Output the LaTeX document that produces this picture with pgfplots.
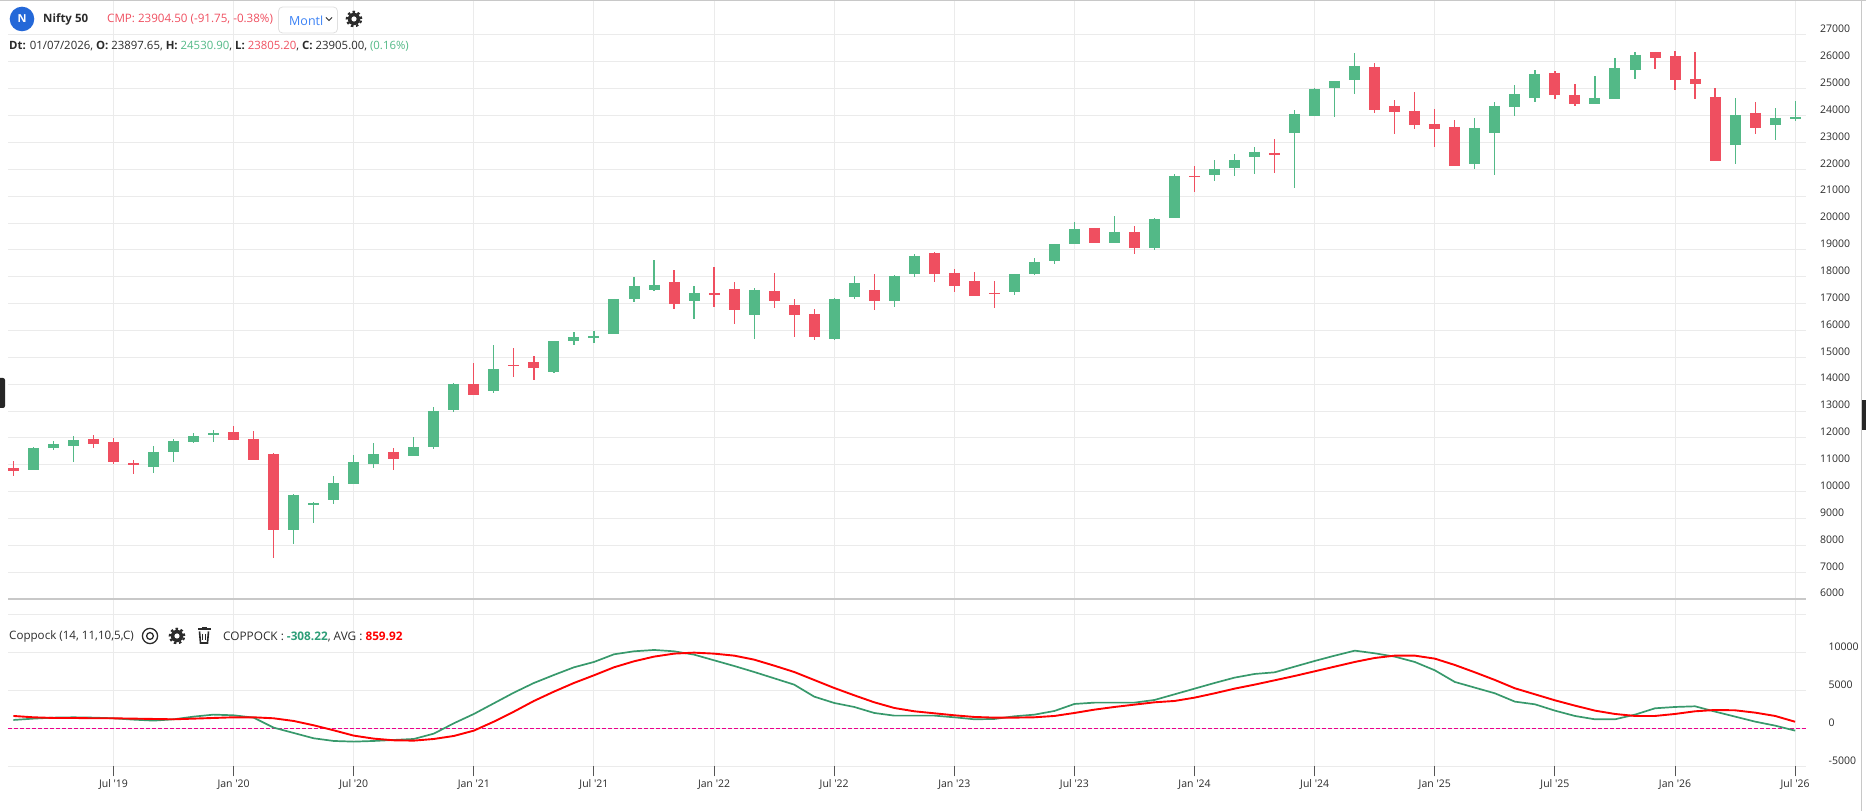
\documentclass[border=0pt]{standalone}
\usepackage{pgfplots}
\usepackage{pgfplotstable}
\usepackage{fontspec}
\pgfplotsset{compat=1.18}
\setmainfont{Open Sans}
\definecolor{cgreen}{HTML}{53B987}
\definecolor{cred}{HTML}{EF4F60}
\definecolor{lgreen}{HTML}{38996C}
\definecolor{gridc}{HTML}{EBEBEB}
\definecolor{txt}{HTML}{2B2B2B}
\definecolor{sepc}{HTML}{C8C8C8}
\definecolor{blueb}{HTML}{2468D8}
\definecolor{bluet}{HTML}{3B82F6}
\definecolor{tealv}{HTML}{2E9E78}
\pgfplotstableread{
n high top bot low
1 11664 11627 10808 10808
2 11887 11776 11627 11552
3 12073 11924 11701 11106
7 11701 11478 10920 10696
8 11962 11887 11478 11106
9 12185 12073 11850 11813
10 12297 12185 12111 11850
14 9915 9878 8575 8054
15 9617 9580 9506 8836
16 10585 10324 9692 9543
17 11366 11106 10287 10287
18 11813 11403 11031 10882
20 12036 11664 11329 11329
21 13153 13004 11664 11590
22 14046 14009 13041 12967
24 15460 14567 13748 13674
27 15609 15609 14455 14418
28 15944 15758 15609 15460
29 15981 15795 15720 15534
30 17172 17172 15870 15870
31 17991 17656 17172 17061
32 18624 17693 17507 17470
34 17656 17396 17098 16428
37 17582 17507 16577 15684
41 17209 17172 15684 15646
42 18028 17768 17247 17172
44 18065 18028 17098 16875
45 18847 18773 18103 17991
50 18103 18103 17433 17321
51 18698 18549 18103 18065
52 19219 19219 18586 18475
53 20038 19777 19219 19219
55 20261 19666 19256 19256
57 20187 20149 19070 18996
58 21824 21750 20187 20187
60 22345 22010 21787 21564
61 22568 22345 22047 21750
62 22829 22643 22457 21824
64 24206 24057 23350 21303
65 25025 24987 23983 23983
66 25285 25285 25025 23945
67 26327 25843 25322 24801
73 23908 23536 22196 22010
74 24504 24355 23350 21787
75 25136 24801 24317 23983
76 25694 25546 24652 24504
79 25471 24652 24429 24429
80 26141 25769 24615 24615
81 26364 26253 25694 25359
86 24652 24020 22903 22196
88 24280 23908 23648 23089
89 24531 23930 23875 23805
}\greenc
\pgfplotstableread{
n high top bot low
0 11143 10882 10771 10585
4 12111 11962 11776 11627
5 11999 11850 11106 11031
6 11180 11069 10994 10659
11 12446 12222 11924 11924
12 12259 11962 11180 11180
13 11441 11403 8575 7533
19 11627 11478 11217 10808
23 14790 14009 13599 13599
25 15348 14716 14678 14269
26 15051 14827 14604 14157
33 18251 17805 16986 16800
35 18363 17396 17321 16875
36 17805 17544 16763 16242
38 18140 17470 17098 16837
39 17172 16949 16577 15758
40 16800 16614 15758 15646
43 18103 17507 17098 16763
46 18921 18884 18103 17805
47 18289 18140 17656 17433
48 18177 17842 17284 17284
49 17842 17396 17358 16837
54 19815 19815 19256 19256
56 19889 19666 19070 18847
59 22122 21750 21712 21154
63 23127 22606 22531 21861
68 25955 25806 24206 24094
69 24578 24355 24131 23313
70 24876 24169 23648 23499
71 24243 23685 23499 22829
72 23834 23573 22122 22122
77 25657 25583 24764 24615
78 25173 24764 24429 24355
82 26364 26364 26141 25732
83 26401 26215 25322 24950
84 26364 25359 25173 24615
85 25025 24690 22308 22308
87 24504 24094 23536 23313
}\redc
\pgfplotstableread{
n cop avg
0 1097 1623
1 1272 1447
2 1404 1360
3 1447 1360
4 1404 1316
5 1316 1316
6 1140 1272
7 1009 1228
8 1184 1184
9 1535 1272
10 1798 1360
11 1711 1447
12 1404 1447
13 88 1316
14 -614 965
15 -1316 395
16 -1667 -263
17 -1754 -965
18 -1667 -1360
19 -1535 -1579
20 -1404 -1623
21 -702 -1404
22 658 -1009
23 1886 -307
24 3290 877
25 4693 2193
26 5965 3597
27 7018 4825
28 8026 5965
29 8728 6974
30 9737 8026
31 10132 8816
32 10307 9430
33 10132 9825
34 9693 9956
35 8947 9825
36 8202 9561
37 7412 9035
38 6579 8246
39 5746 7412
40 4167 6360
41 3333 5307
42 2807 4342
43 2018 3421
44 1667 2675
45 1667 2237
46 1667 1974
47 1447 1711
48 1184 1491
49 1228 1404
50 1579 1404
51 1798 1447
52 2281 1623
53 3202 2018
54 3377 2456
55 3377 2807
56 3377 3114
57 3728 3421
58 4474 3597
59 5219 4035
60 5965 4605
61 6667 5219
62 7149 5746
63 7368 6316
64 8114 6886
65 8860 7500
66 9561 8114
67 10219 8728
68 9869 9254
69 9430 9561
70 8728 9561
71 7632 9167
72 6097 8333
73 5351 7368
74 4605 6360
75 3509 5263
76 3158 4474
77 2325 3684
78 1623 2982
79 1184 2325
80 1184 1886
81 1798 1623
82 2632 1623
83 2807 1886
84 2895 2237
85 2193 2412
86 1535 2368
87 877 2061
88 351 1623
89 -308 860
}\coppock
\newcommand{\q}{\textquotesingle}
\newcommand{\gear}[2]{%
  \fill[txt] (#1,#2) circle (6.2pt);
  \draw[txt,line width=2.2pt,dash pattern=on 2.5pt off 2.6pt] (#1,#2) circle (7.2pt);
  \fill[white] (#1,#2) circle (2.6pt);}
\pgfplotsset{
  panel/.style={
    scale only axis, width=1798pt, anchor=south west,
    xmin=-0.27, xmax=89.54,
    xtick={5,11,...,89},
    xtick pos=bottom,
    axis line style={draw=none},
    xmajorgrids, ymajorgrids,
    grid style={gridc,line width=1pt},
    ytick pos=right, yticklabel pos=right,
    y tick style={draw=none},
    scaled y ticks=false,
    tick label style={font=\fontsize{10.5}{12}\selectfont,text=txt},
    clip=true,
  },
  wick/.style={draw=none,no markers,forget plot,error bars/.cd,y dir=both,y explicit,error mark=none,
     error bar style={line width=1.2pt,draw=#1,solid}},
  body/.style={draw=none,no markers,forget plot,error bars/.cd,y dir=both,y explicit,error mark=none,
     error bar style={line width=11pt,draw=#1,solid}},
}
\begin{document}
\begin{tikzpicture}[x=1pt,y=1pt]
\useasboundingbox (0,0) rectangle (1866,811);
\fill[sepc] (0,810) rectangle (1866,811);
\draw[sepc,line width=1pt] (1861.5,0) -- (1861.5,811);

\begin{axis}[panel,at={(8pt,211.8pt)},height=598.2pt,
  ymin=6000,ymax=28262,
  ytick={6000,7000,...,27000},
  x tick style={draw=none},xticklabels={},
  yticklabels={6000,7000,8000,9000,10000,11000,12000,13000,14000,15000,16000,17000,18000,19000,20000,21000,22000,23000,24000,25000,26000,27000},
  yticklabel style={anchor=west,inner sep=0pt,xshift=14pt,yshift=6pt},
]
\addplot[wick=cgreen] table[x=n,y=top,y error plus expr=\thisrow{high}-\thisrow{top},y error minus expr=\thisrow{top}-\thisrow{low}] {\greenc};
\addplot[wick=cred] table[x=n,y=top,y error plus expr=\thisrow{high}-\thisrow{top},y error minus expr=\thisrow{top}-\thisrow{low}] {\redc};
\addplot[body=cgreen] table[x=n,y=top,y error plus expr=0,y error minus expr=\thisrow{top}-\thisrow{bot}] {\greenc};
\addplot[body=cred] table[x=n,y=top,y error plus expr=0,y error minus expr=\thisrow{top}-\thisrow{bot}] {\redc};
\end{axis}

\begin{axis}[panel,at={(8pt,44.7pt)},height=166.3pt,
  ymin=-5000,ymax=16882,
  ytick={-5000,0,5000,10000,15000},
  yticklabels={-5000,0,5000,10000,{}},
  yticklabel style={anchor=west,inner sep=0pt,xshift=12.5pt,yshift=6pt},
  xticklabels={Jul \q19,Jan \q20,Jul \q20,Jan \q21,Jul \q21,Jan \q22,Jul \q22,Jan \q23,Jul \q23,Jan \q24,Jul \q24,Jan \q25,Jul \q25,Jan \q26,Jul \q26},
  tick align=outside,
  major tick length=10pt,
  x tick style={draw=txt!80,line width=1pt},
]
\addplot[magenta,line width=1pt,dash pattern=on 3.6pt off 2.4pt,forget plot] coordinates {(-0.27,0) (89.54,0)};
\addplot[lgreen,line width=1.7pt] table[x=n,y=cop] {\coppock};
\addplot[red,line width=1.9pt] table[x=n,y=avg] {\coppock};
\end{axis}

\draw[sepc,line width=2pt] (8,212) -- (1806,212);

% tabs
\fill[black!85,rounded corners=2pt] (-3,403) rectangle (5,433);
\fill[black!85,rounded corners=0pt] (1862,381) rectangle (1866,411);

% header
\fill[blueb] (22,792) circle (12.3pt);
\node[white,font=\fontsize{11}{13}\selectfont\bfseries] at (22,792) {N};
\node[anchor=west,inner sep=0pt,text=txt,font=\fontsize{11.5}{13}\selectfont\bfseries] at (43,792) {Nifty 50};
\node[anchor=west,inner sep=0pt,text=cred,font=\fontsize{11.6}{14}\selectfont] at (107,792) {CMP: 23904.50 (-91.75, -0.38\%)};
\draw[black!12,fill=white,rounded corners=4pt,line width=0.8pt] (278.5,778) rectangle (337.5,804);
\node[anchor=west,inner sep=0pt,text=bluet,font=\fontsize{12.5}{14}\selectfont] at (289,790) {Montl};
\draw[txt,line width=1pt] (326,793.5) -- (329,790.5) -- (332,793.5);
\gear{354}{792}
\node[anchor=west,inner sep=0pt,font=\fontsize{11.4}{13}\selectfont,text=txt] at (9,765) {\textbf{Dt:} 01/07/2026, \textbf{O:} 23897.65, \textbf{H:} \textcolor{cgreen}{24530.90}, \textbf{L:} \textcolor{cred}{23805.20}, \textbf{C:} 23905.00, \textcolor{cgreen}{(0.16\%)}};

% indicator header
\node[anchor=west,inner sep=0pt,font=\fontsize{11.6}{13}\selectfont,text=txt] at (9,174.5) {Coppock (14, 11,10,5,C)};
\draw[txt,line width=1.3pt] (150,175) circle (7.6pt);
\draw[txt,line width=1.3pt] (150,175) circle (3.4pt);
\gear{177}{175}
\fill[txt] (197.5,181) rectangle (210.5,182.5);
\fill[txt] (201.5,182) rectangle (206.5,184);
\draw[txt,line width=1.6pt] (199.5,179.5) -- (200.5,168) -- (207.5,168) -- (208.5,179.5);
\draw[txt,line width=1pt] (202.5,177) -- (202.5,171) (205.5,177) -- (205.5,171);
\node[anchor=west,inner sep=0pt,font=\fontsize{11.8}{13}\selectfont,text=txt] at (223,174.5) {COPPOCK : \textcolor{tealv}{\textbf{-308.22}}, AVG : \textcolor{red}{\textbf{859.92}}};
\end{tikzpicture}
\end{document}
